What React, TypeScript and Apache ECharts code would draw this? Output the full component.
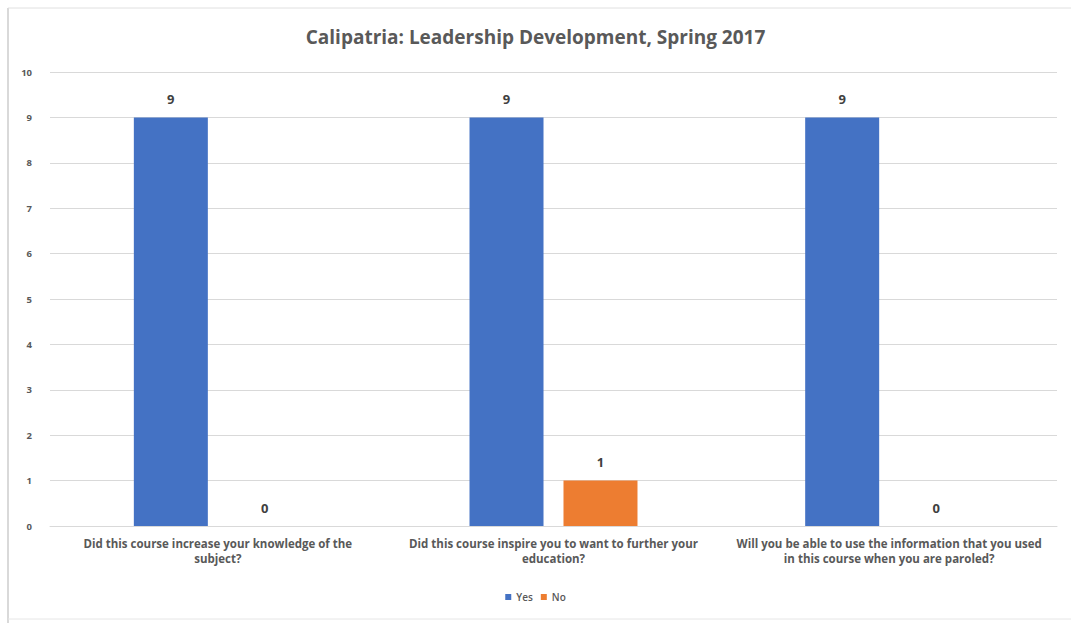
import React, { useEffect, useRef } from "react";
import * as echarts from "echarts";

const categories = [
  "Did this course increase your knowledge of the\nsubject?",
  "Did this course inspire you to want to further your\neducation?",
  "Will you be able to use the information that you used\nin this course when you are paroled?",
];
const yesValues = [9, 9, 9];
const noValues = [0, 1, 0];
const seriesNames = ["Yes", "No"];

export default function App() {
  const ref = useRef<HTMLDivElement>(null);
  useEffect(() => {
    if (!ref.current) return;
    const chart = echarts.init(ref.current, null, { renderer: "svg" });
    const font = "'Open Sans', 'Liberation Sans', sans-serif";
    chart.setOption({
      animation: false,
      backgroundColor: "#ffffff",
      textStyle: { fontFamily: font },
      title: {
        text: "Calipatria: Leadership Development, Spring 2017",
        left: "center",
        top: 22,
        textStyle: { fontSize: 19, fontWeight: "bold", color: "#595959", fontFamily: font },
      },
      graphic: [
        { type: "line", shape: { x1: 8, y1: 8, x2: 8, y2: 623 }, style: { stroke: "#d9d9d9", lineWidth: 2 } },
        { type: "line", shape: { x1: 8, y1: 8, x2: 1071, y2: 8 }, style: { stroke: "#e0e0e0", lineWidth: 1 } },
        { type: "line", shape: { x1: 8, y1: 619, x2: 1071, y2: 619 }, style: { stroke: "#e6e6e6", lineWidth: 1 } },
      ],
      legend: {
        data: seriesNames,
        bottom: 16,
        left: "center",
        itemWidth: 6,
        itemHeight: 6,
        itemGap: 8,
        icon: "rect",
        textStyle: { fontSize: 10, color: "#595959", fontFamily: font, fontWeight: 600 },
      },
      grid: { left: 50, right: 14, top: 72, bottom: 97, containLabel: false },
      xAxis: {
        type: "category",
        data: categories,
        axisTick: { show: false },
        axisLine: { lineStyle: { color: "#d9d9d9" } },
        axisLabel: {
          interval: 0,
          color: "#595959",
          fontSize: 11.5,
          fontWeight: "bold",
          lineHeight: 15,
          margin: 10,
          fontFamily: font,
        },
      },
      yAxis: {
        type: "value",
        min: 0,
        max: 10,
        interval: 1,
        axisLine: { show: false },
        axisTick: { show: false },
        splitLine: { lineStyle: { color: "#d9d9d9" } },
        axisLabel: { color: "#595959", fontSize: 9.5, fontWeight: "bold", margin: 18, fontFamily: font },
      },
      series: [
        {
          name: seriesNames[0],
          type: "bar",
          data: yesValues,
          barWidth: 74,
          barGap: "27%",
          itemStyle: { color: "#4472C4" },
          label: { show: true, position: "top", distance: 12, fontSize: 13, fontWeight: 700, color: "#404040", fontFamily: font },
        },
        {
          name: seriesNames[1],
          type: "bar",
          data: noValues,
          barWidth: 74,
          itemStyle: { color: "#ED7D31" },
          label: { show: true, position: "top", distance: 12, fontSize: 13, fontWeight: 700, color: "#404040", fontFamily: font },
        },
      ],
    });
    return () => chart.dispose();
  }, []);
  return (
    <div
      ref={ref}
      style={{ position: "fixed", left: 0, top: 0, width: 1071, height: 623 }}
    />
  );
}
